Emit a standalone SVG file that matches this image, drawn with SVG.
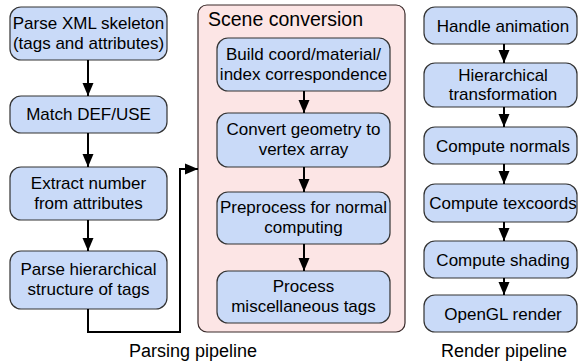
<svg xmlns="http://www.w3.org/2000/svg" width="579" height="363" viewBox="0 0 579 363">
  <style>
    .box { fill: #c9daf8; stroke: #333333; stroke-width: 1.2; }
    .container { fill: #fce5e5; stroke: #3a2a2a; stroke-width: 1.2; }
    .t { font-family: "Liberation Sans", Arial, sans-serif; font-size: 17px; fill: #000000; text-anchor: middle; }
    .title { font-family: "Liberation Sans", Arial, sans-serif; font-size: 19.5px; fill: #000000; }
    .label { font-family: "Liberation Sans", Arial, sans-serif; font-size: 18px; fill: #000000; text-anchor: middle; }
    .conn { fill: none; stroke: #000000; stroke-width: 2; }
  </style>
  <defs>
    <marker id="arrow" markerUnits="userSpaceOnUse" markerWidth="14" markerHeight="14" viewBox="0 0 14 14" refX="13" refY="7" orient="auto">
      <path d="M0,1.5 L13,7 L0,12.5 z" fill="#000000"/>
    </marker>
  </defs>

  <g id="scene-conversion">
    <rect class="container" x="198" y="5" width="207" height="327" rx="9"/>
    <text class="title" x="208" y="26">Scene conversion</text>
  </g>

  <g id="parse-xml">
    <rect class="box" x="10" y="7" width="157" height="53" rx="11"/>
    <text class="t" x="88.5" y="28.5">Parse XML skeleton</text>
    <text class="t" x="88.5" y="48.5">(tags and attributes)</text>
  </g>
  <g id="match-def">
    <rect class="box" x="10" y="96" width="157" height="37" rx="11"/>
    <text class="t" x="88.5" y="120">Match DEF/USE</text>
  </g>
  <g id="extract-number">
    <rect class="box" x="10" y="167" width="157" height="53" rx="11"/>
    <text class="t" x="88.5" y="188.5">Extract number</text>
    <text class="t" x="88.5" y="208.5">from attributes</text>
  </g>
  <g id="parse-hier">
    <rect class="box" x="10" y="251" width="157" height="58" rx="11"/>
    <text class="t" x="88.5" y="275">Parse hierarchical</text>
    <text class="t" x="88.5" y="295">structure of tags</text>
  </g>

  <g id="build-coord">
    <rect class="box" x="217" y="38" width="173" height="53" rx="11"/>
    <text class="t" x="303.5" y="59.5">Build coord/material/</text>
    <text class="t" x="303.5" y="79.5">index correspondence</text>
  </g>
  <g id="convert-geom">
    <rect class="box" x="217" y="113" width="173" height="54" rx="11"/>
    <text class="t" x="303.5" y="135">Convert geometry to</text>
    <text class="t" x="303.5" y="155">vertex array</text>
  </g>
  <g id="preprocess">
    <rect class="box" x="217" y="192" width="173" height="52" rx="11"/>
    <text class="t" x="303.5" y="213">Preprocess for normal</text>
    <text class="t" x="303.5" y="233">computing</text>
  </g>
  <g id="process-misc">
    <rect class="box" x="217" y="271" width="173" height="52" rx="11"/>
    <text class="t" x="303.5" y="292">Process</text>
    <text class="t" x="303.5" y="312">miscellaneous tags</text>
  </g>

  <g id="handle-anim">
    <rect class="box" x="424" y="7" width="153" height="37" rx="11"/>
    <text class="t" x="503" y="31.5">Handle animation</text>
  </g>
  <g id="hier-transform">
    <rect class="box" x="424" y="63" width="153" height="44" rx="11"/>
    <text class="t" x="503" y="80.5">Hierarchical</text>
    <text class="t" x="503" y="100">transformation</text>
  </g>
  <g id="compute-normals">
    <rect class="box" x="424" y="127" width="153" height="37" rx="11"/>
    <text class="t" x="503" y="151.5">Compute normals</text>
  </g>
  <g id="compute-texcoords">
    <rect class="box" x="424" y="184" width="153" height="38" rx="11"/>
    <text class="t" x="503" y="209">Compute texcoords</text>
  </g>
  <g id="compute-shading">
    <rect class="box" x="424" y="241" width="153" height="37" rx="11"/>
    <text class="t" x="503" y="265.5">Compute shading</text>
  </g>
  <g id="opengl-render">
    <rect class="box" x="424" y="295" width="153" height="37" rx="11"/>
    <text class="t" x="503" y="319.5">OpenGL render</text>
  </g>

  <g id="labels">
    <text class="label" x="193" y="357">Parsing pipeline</text>
    <text class="label" x="504" y="357">Render pipeline</text>
  </g>

  <g id="connectors">
    <path class="conn" d="M88,60 V96" marker-end="url(#arrow)"/>
    <path class="conn" d="M88,133 V167" marker-end="url(#arrow)"/>
    <path class="conn" d="M88,220 V251" marker-end="url(#arrow)"/>
    <path class="conn" d="M88,309 V332 H180 V169 H198" marker-end="url(#arrow)"/>
    <path class="conn" d="M304,91 V113" marker-end="url(#arrow)"/>
    <path class="conn" d="M304,167 V192" marker-end="url(#arrow)"/>
    <path class="conn" d="M304,244 V271" marker-end="url(#arrow)"/>
    <path class="conn" d="M504,44 V63" marker-end="url(#arrow)"/>
    <path class="conn" d="M504,107 V127" marker-end="url(#arrow)"/>
    <path class="conn" d="M504,164 V184" marker-end="url(#arrow)"/>
    <path class="conn" d="M504,222 V241" marker-end="url(#arrow)"/>
    <path class="conn" d="M504,278 V295" marker-end="url(#arrow)"/>
  </g>
</svg>
